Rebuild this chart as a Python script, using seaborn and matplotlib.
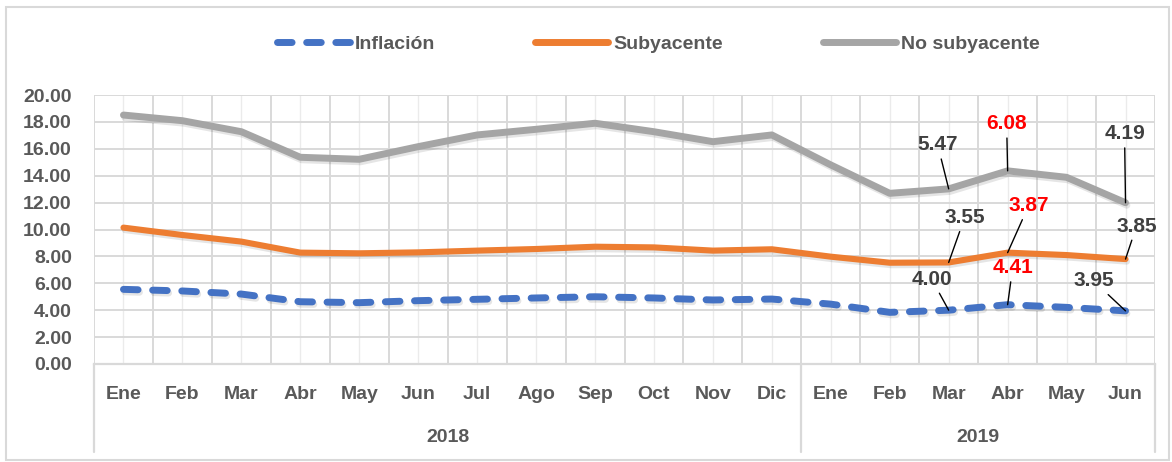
import numpy as np
import pandas as pd
import matplotlib
matplotlib.use("Agg")
import matplotlib.pyplot as plt
import matplotlib.patheffects as pe
from matplotlib.patches import Rectangle
from matplotlib.lines import Line2D
import matplotlib.transforms as mtransforms
import seaborn as sns

# ---------------- data ----------------
months = ["Ene", "Feb", "Mar", "Abr", "May", "Jun", "Jul", "Ago", "Sep", "Oct", "Nov", "Dic",
          "Ene", "Feb", "Mar", "Abr", "May", "Jun"]
years = ["2018", "2019"]
year_counts = [12, 6]

inflacion = [5.55, 5.43, 5.20, 4.63, 4.56, 4.71, 4.81, 4.91, 5.00, 4.91, 4.76, 4.83,
             4.45, 3.84, 4.00, 4.41, 4.21, 3.95]
subyacente = [4.59, 4.16, 3.90, 3.65, 3.67, 3.59, 3.62, 3.64, 3.72, 3.76, 3.67, 3.70,
              3.53, 3.69, 3.55, 3.87, 3.89, 3.85]
no_subyacente = [8.37, 8.50, 8.17, 7.09, 6.99, 7.86, 8.60, 8.90, 9.18, 8.60, 8.10, 8.50,
                 6.82, 5.16, 5.47, 6.08, 5.78, 4.19]

series_names = ["Inflación", "Subyacente", "No subyacente"]
colors = ["#4472C4", "#ED7D31", "#A5A5A5"]

# labelled points: (series index, month index, label colour)
labels = [(0, 14, "#404040"), (0, 15, "#FF0000"), (0, 17, "#404040"),
          (1, 14, "#404040"), (1, 15, "#FF0000"), (1, 17, "#404040"),
          (2, 14, "#404040"), (2, 15, "#FF0000"), (2, 17, "#404040")]
# label offsets in pixels (dx, dy)
label_offsets = [(-17, 31), (5, 37), (-32, 30),
                 (16, 45), (21, 47), (11, 33),
                 (-11, 44), (-1, 47), (-1, 69)]

# stacked line chart (as in the original)
raw = np.array([inflacion, subyacente, no_subyacente])
stacked = np.cumsum(raw, axis=0)

rows = []
for s, name in enumerate(series_names):
    for i in range(len(months)):
        rows.append({"idx": i, "serie": name, "valor": stacked[s, i], "raw": raw[s, i]})
df = pd.DataFrame(rows)

# ---------------- style ----------------
sns.set_theme(style="white")
plt.rcParams["font.family"] = ["Liberation Sans", "DejaVu Sans"]
plt.rcParams["font.weight"] = "bold"
FS, FS_LAB = 14, 15
TXT = "#595959"
GRID = "#D9D9D9"

W, H = 1172, 462
fig = plt.figure(figsize=(W / 100, H / 100), dpi=100)
L, R, T, B = 94, 1155, 95, 364
ax = fig.add_axes([L / W, 1 - B / H, (R - L) / W, (B - T) / H])

shadow = [pe.SimpleLineShadow(offset=(1.0, -1.8), shadow_color="#000000", alpha=0.10), pe.Normal()]

styles = {
    "Inflación": dict(lw=5.0, dashes=(2.1, 2.1), dash_capstyle="round"),
    "Subyacente": dict(lw=4.4, solid_capstyle="round"),
    "No subyacente": dict(lw=5.0, solid_capstyle="round"),
}
for name, col in zip(series_names[::-1], colors[::-1]):
    sub = df[df["serie"] == name]
    st = dict(styles[name])
    sns.lineplot(data=sub, x="idx", y="valor", ax=ax, color=col, linewidth=st.pop("lw"),
                 legend=False, zorder=3, **st)
    ax.lines[-1].set_path_effects(shadow)

ax.set_xlim(-0.5, len(months) - 0.5)
ax.set_ylim(0, 20)
ax.set_yticks(np.arange(0, 20.01, 2))
ax.set_yticklabels([f"{v:.2f}" for v in np.arange(0, 20.01, 2)])
ax.set_xticks(range(len(months)))
ax.set_xticklabels(months)
ax.set_xticks(np.arange(-0.5, len(months), 1), minor=True)
ax.set_xlabel("")
ax.set_ylabel("")

ax.grid(True, which="major", axis="y", color=GRID, lw=1.4, zorder=0)
ax.grid(True, which="major", axis="x", color="#EBEBEB", lw=1.0, zorder=0)
ax.grid(True, which="minor", axis="x", color=GRID, lw=1.4, zorder=0)
ax.set_axisbelow(True)

for sp in ["top", "right", "left"]:
    ax.spines[sp].set_visible(False)
ax.spines["bottom"].set_color(GRID)
ax.spines["bottom"].set_linewidth(1.6)

ax.tick_params(axis="both", which="both", length=0)
ax.tick_params(axis="y", pad=16, labelsize=FS, labelcolor=TXT)
ax.tick_params(axis="x", pad=16, labelsize=FS, labelcolor=TXT)
for t in ax.get_xticklabels() + ax.get_yticklabels():
    t.set_fontweight("bold")

# year grouping lines and labels below the axis
trans = mtransforms.blended_transform_factory(ax.transData, ax.transAxes)
h_ax = B - T
depth = (452 - B) / h_ax
edges = [-0.5]
for c in year_counts:
    edges.append(edges[-1] + c)
for e in edges:
    ax.add_line(Line2D([e, e], [0, -depth], transform=trans, color=GRID, lw=1.6, clip_on=False))
for k, yr in enumerate(years):
    xc = (edges[k] + edges[k + 1]) / 2
    ax.text(xc, -(437 - B) / h_ax, yr, transform=trans, ha="center", va="center",
            fontsize=FS, fontweight="bold", color=TXT)

# data labels with leader lines
for (s, i, col), (dx, dy) in zip(labels, label_offsets):
    ax.annotate(f"{raw[s, i]:.2f}", xy=(i, stacked[s, i]), xytext=(dx, dy),
                textcoords="offset pixels", ha="center", va="center",
                fontsize=FS_LAB, fontweight="bold", color=col, zorder=5,
                arrowprops=dict(arrowstyle="-", color="black", lw=1.0, shrinkA=1, shrinkB=0))

# legend
em = FS * 100 / 72
leg_handles = [Line2D([], [], color=colors[0], lw=5.0, dashes=(2.1, 2.1), dash_capstyle="round"),
               Line2D([], [], color=colors[1], lw=5.0, solid_capstyle="round"),
               Line2D([], [], color=colors[2], lw=5.0, solid_capstyle="round")]
leg = fig.legend(leg_handles, series_names, loc="center", bbox_to_anchor=(658 / W, 1 - 44 / H),
                 ncol=3, frameon=False, handlelength=73 / em,
                 handletextpad=5 / em, columnspacing=100 / em,
                 prop={"size": FS, "weight": "bold"})
for t in leg.get_texts():
    t.set_color(TXT)

# outer chart frame
fig.patches.append(Rectangle((5.5 / W, 1 - 460 / H), (1169 - 5.5) / W, (460 - 6.5) / H,
                             transform=fig.transFigure, fill=False, edgecolor=GRID, lw=1.5))

fig.savefig("out.png", dpi=100)
